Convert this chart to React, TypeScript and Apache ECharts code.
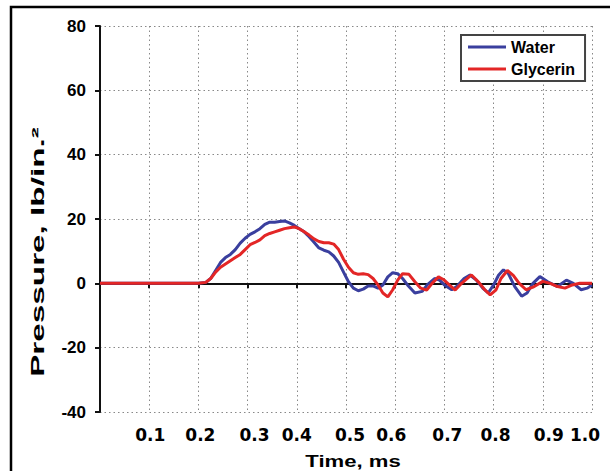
import React, { useEffect, useRef } from "react";
import * as echarts from "echarts";

const xTicks = [0.1, 0.2, 0.3, 0.4, 0.5, 0.6, 0.7, 0.8, 0.9, 1.0];
const xLabelShift = [1, 2, 7, 0, 4, -4, 3, 2, 6, -7];

const waterT = [0, 0.2, 0.215, 0.225, 0.235, 0.245, 0.255, 0.265, 0.275, 0.285, 0.295, 0.305, 0.315, 0.325, 0.335, 0.345, 0.355, 0.365, 0.375, 0.385, 0.395, 0.405, 0.415, 0.425, 0.435, 0.445, 0.455, 0.465, 0.475, 0.485, 0.495, 0.505, 0.515, 0.525, 0.535, 0.545, 0.555, 0.565, 0.575, 0.585, 0.595, 0.605, 0.615, 0.625, 0.64, 0.655, 0.665, 0.68, 0.69, 0.7, 0.715, 0.725, 0.74, 0.752, 0.765, 0.778, 0.789, 0.8, 0.81, 0.82, 0.83, 0.843, 0.857, 0.868, 0.88, 0.894, 0.91, 0.93, 0.948, 0.962, 0.978, 0.99, 1.0];
const waterP = [0, 0, 0.3, 1.5, 4, 6.5, 8, 9, 10.5, 12.5, 14, 15.2, 16, 17, 18.3, 19, 19, 19.2, 19.4, 18.8, 18, 17, 16, 14.5, 12.8, 11, 10.3, 9.8, 8.5, 6.5, 3.5, 0.5, -1.5, -2.3, -1.8, -0.8, -0.8, -1.5, -0.5, 2, 3.3, 3, 1.5, -0.5, -3, -2.5, -0.5, 1.5, 1, -0.5, -2, -1, 1.5, 2.6, 1, -1.5, -3, -0.5, 2.5, 4.2, 3, -1, -4, -3, 0, 2.1, 0.5, -1, 1, 0, -2, -1.5, -0.5];

const glyT = [0, 0.2, 0.215, 0.225, 0.235, 0.245, 0.255, 0.265, 0.275, 0.285, 0.295, 0.305, 0.315, 0.325, 0.335, 0.345, 0.355, 0.365, 0.375, 0.385, 0.395, 0.405, 0.415, 0.425, 0.435, 0.445, 0.455, 0.465, 0.475, 0.485, 0.495, 0.505, 0.515, 0.525, 0.535, 0.545, 0.555, 0.565, 0.575, 0.585, 0.595, 0.605, 0.615, 0.628, 0.64, 0.652, 0.664, 0.675, 0.688, 0.698, 0.71, 0.722, 0.735, 0.755, 0.77, 0.782, 0.793, 0.805, 0.815, 0.828, 0.84, 0.852, 0.866, 0.88, 0.9, 0.915, 0.93, 0.945, 0.96, 0.975, 1.0];
const glyP = [0, 0, 0.3, 1.5, 3.5, 5, 6, 7, 8, 9, 10.5, 12, 12.7, 13.5, 14.8, 15.5, 16, 16.5, 17, 17.3, 17.5, 17, 16, 15, 13.8, 13, 12.6, 12.6, 12.2, 10.5, 7.5, 5, 3.3, 2.8, 3, 2.7, 1.5, -0.5, -3, -4.2, -2, 1, 3, 2.8, 0.5, -1.5, -2.1, 0, 2, 1.2, -0.5, -2.1, 0, 2.6, 0.3, -2, -3.6, -2, 1.5, 4, 2.5, 0, -2, -1.2, 0.6, 0, -1, -1.5, -0.5, 0, 0];

const FONT = "'Liberation Sans', Arial, Helvetica, sans-serif";
const WIDE = "'DejaVu Sans', 'Liberation Sans', sans-serif";

export default function App() {
  const ref = useRef<HTMLDivElement>(null);
  useEffect(() => {
    document.body.style.margin = "0";
    if (!ref.current) return;
    const chart = echarts.init(ref.current, undefined, { renderer: "svg" });
    const rich: any = {};
    xLabelShift.forEach((s, i) => {
      rich["l" + i] = {
        fontSize: 17,
        fontWeight: "bold",
        fontFamily: WIDE,
        color: "#000",
        padding: s >= 0 ? [0, 0, 0, 2 * s] : [0, -2 * s, 0, 0],
      };
    });
    chart.setOption({
      animation: false,
      backgroundColor: "#fff",
      grid: { left: 100, right: 18, top: 26, bottom: 59, containLabel: false },
      legend: {
        orient: "vertical",
        left: 461,
        top: 35,
        padding: [4, 10, 4, 7],
        itemGap: 6,
        itemWidth: 38,
        itemHeight: 3,
        icon: "rect",
        borderColor: "#444",
        borderWidth: 2,
        backgroundColor: "#fff",
        textStyle: { fontSize: 16, fontWeight: "bold", fontFamily: FONT, color: "#000", lineHeight: 16 },
        data: ["Water", "Glycerin"],
      },
      xAxis: {
        type: "value",
        min: 0,
        max: 1,
        interval: 0.1,
        axisLine: { lineStyle: { color: "#111", width: 2 } },
        axisTick: { show: true, length: 5, lineStyle: { color: "#111", width: 2 } },
        axisLabel: {
          margin: 14,
          formatter: (v: number) => {
            const i = xTicks.findIndex((t) => Math.abs(t - v) < 1e-6);
            if (i < 0) return "";
            return "{l" + i + "|" + xTicks[i].toFixed(1) + "}";
          },
          rich,
        },
        splitLine: { show: true, lineStyle: { color: "#888", type: [1.5, 3], width: 1 } },
      },
      yAxis: {
        type: "value",
        min: -40,
        max: 80,
        interval: 20,
        axisLine: { show: true, lineStyle: { color: "#111", width: 2 } },
        axisTick: { show: true, length: 5, lineStyle: { color: "#111", width: 2 } },
        axisLabel: { margin: 14, fontSize: 17, fontWeight: "bold", fontFamily: FONT, color: "#000" },
        splitLine: { show: true, lineStyle: { color: "#888", type: [1.5, 3], width: 1 } },
      },
      graphic: [
        {
          type: "rect",
          shape: { x: 11, y: 7, width: 640, height: 520 },
          style: { fill: "none", stroke: "#000", lineWidth: 2.5 },
          silent: true,
        },
        {
          type: "text",
          x: 38,
          y: 252,
          rotation: Math.PI / 2,
          scaleX: 1.85,
          style: {
            text: "Pressure, lb/in.²",
            font: "bold 18px " + FONT,
            fill: "#000",
            align: "center",
            verticalAlign: "middle",
          },
        },
        {
          type: "text",
          x: 353,
          y: 461,
          scaleX: 1.3,
          style: {
            text: "Time, ms",
            font: "bold 17px " + FONT,
            fill: "#000",
            align: "center",
            verticalAlign: "middle",
          },
        },
      ],
      series: [
        {
          name: "Water",
          type: "line",
          showSymbol: false,
          symbol: "none",
          data: waterT.map((t, i) => [t, waterP[i]]),
          lineStyle: { color: "#3a3f9e", width: 3 },
          itemStyle: { color: "#3a3f9e" },
          z: 2,
        },
        {
          name: "Glycerin",
          type: "line",
          showSymbol: false,
          symbol: "none",
          data: glyT.map((t, i) => [t, glyP[i]]),
          lineStyle: { color: "#e32626", width: 3 },
          itemStyle: { color: "#e32626" },
          z: 3,
        },
      ],
    });
    return () => chart.dispose();
  }, []);
  return <div ref={ref} style={{ width: 610, height: 471 }} />;
}
